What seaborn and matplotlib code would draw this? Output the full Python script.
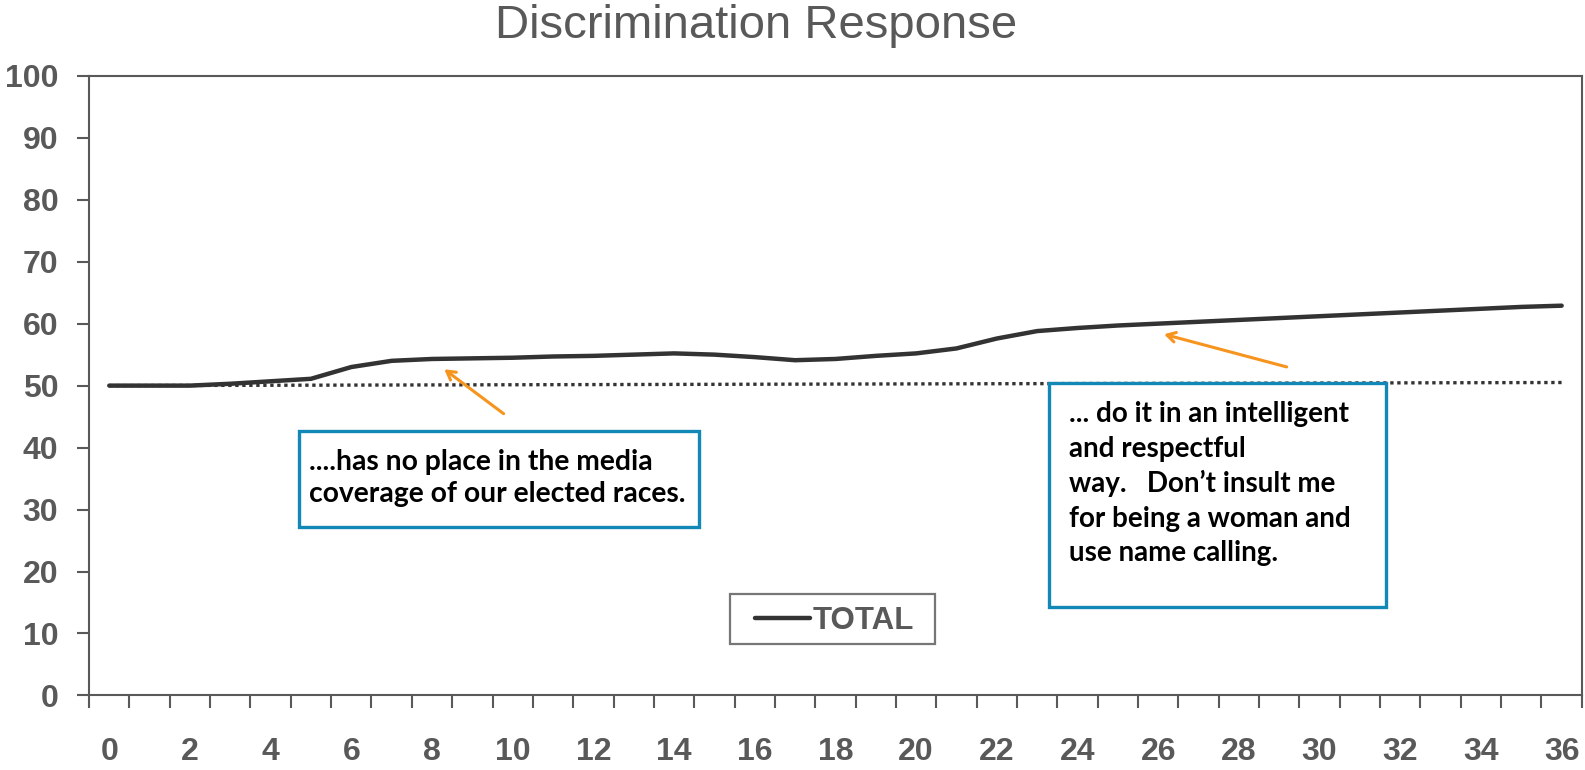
import matplotlib
matplotlib.use("Agg")
import matplotlib.pyplot as plt
import seaborn as sns
import pandas as pd
from matplotlib.patches import Rectangle
from matplotlib.ticker import FixedLocator

# ---- data ----
categories = list(range(37))
total = [50.0, 50.0, 50.0, 50.3, 50.7, 51.1, 53.0, 54.0, 54.3, 54.4, 54.5, 54.7, 54.8, 55.0,
         55.2, 55.0, 54.6, 54.1, 54.3, 54.8, 55.2, 56.0, 57.6, 58.8, 59.3, 59.7, 60.0, 60.3,
         60.6, 60.9, 61.2, 61.5, 61.8, 62.1, 62.4, 62.7, 62.9]
ref_x = [0, 36]
ref_y = [50.0, 50.5]
y_ticks = [0, 10, 20, 30, 40, 50, 60, 70, 80, 90, 100]
x_labels = list(range(0, 37, 2))
title = "Discrimination Response"
series_name = "TOTAL"
note1 = "....has no place in the media\ncoverage of our elected races."
note2 = "... do it in an intelligent\nand respectful\nway.   Don\u2019t insult me\nfor being a woman and\nuse name calling."

df = pd.DataFrame({"x": categories, "TOTAL": total})

sns.set_style("white")
plt.rcParams["font.family"] = ["Liberation Sans", "DejaVu Sans"]

GRAY = "#595959"
fig = plt.figure(figsize=(15.85, 7.70), dpi=100)
ax = fig.add_axes([0.0562, 0.0968, 0.998 - 0.0562, 0.9016 - 0.0968])

sns.lineplot(data=df, x="x", y="TOTAL", ax=ax, color="#333333", linewidth=3.2,
             label=series_name, zorder=3)
ax.plot(ref_x, ref_y, linestyle=(0, (1, 1.1)), color="#333333", linewidth=2.4, zorder=2)

ax.set_xlim(-0.5, 36.5)
ax.set_ylim(0, 100)
ax.set_xlabel("")
ax.set_ylabel("")

ax.set_yticks(y_ticks)
ax.set_xticks(x_labels)
ax.set_xticklabels([str(v) for v in x_labels])
ax.xaxis.set_minor_locator(FixedLocator([i - 0.5 for i in range(38)]))
ax.tick_params(axis="x", which="major", length=0, pad=30, labelsize=23, labelcolor=GRAY)
ax.tick_params(axis="x", which="minor", length=9.4, width=1.5, color=GRAY, direction="out", bottom=True)
ax.tick_params(axis="y", which="major", length=8.6, width=1.5, color=GRAY, direction="out",
               left=True, pad=13.5, labelsize=23, labelcolor=GRAY)
for lab in ax.get_xticklabels() + ax.get_yticklabels():
    lab.set_fontweight("bold")

for s in ax.spines.values():
    s.set_visible(True)
    s.set_color(GRAY)
    s.set_linewidth(1.5)

ax.set_title(title, fontsize=34, color=GRAY, pad=27)
ax.title.set_position((0.447, 1.0))

# annotation boxes
BLUE = "#1288B6"
ax.add_patch(Rectangle((4.7, 27.2), 14.63 - 4.7, 42.6 - 27.2, facecolor="white",
                       edgecolor=BLUE, linewidth=2.4, zorder=5))
ax.text(4.95, 35.1, note1, fontsize=20.3, family=["Lato", "DejaVu Sans"], fontweight="bold",
        va="center", ha="left", linespacing=1.27, zorder=6, color="black")
ax.add_patch(Rectangle((23.3, 14.2), 31.65 - 23.3, 50.4 - 14.2, facecolor="white",
                       edgecolor=BLUE, linewidth=2.4, zorder=5))
ax.text(23.78, 34.2, note2, fontsize=20.0, family=["Lato", "DejaVu Sans"], fontweight="bold",
        va="center", ha="left", linespacing=1.39, zorder=6, color="black")

ORANGE = "#F7941D"
ax.annotate("", xy=(8.25, 52.9), xytext=(9.83, 45.2),
            arrowprops=dict(arrowstyle="->,head_length=0.6,head_width=0.35", color=ORANGE, lw=2.2),
            zorder=6)
ax.annotate("", xy=(26.08, 58.4), xytext=(29.25, 52.9),
            arrowprops=dict(arrowstyle="->,head_length=0.6,head_width=0.35", color=ORANGE, lw=2.2),
            zorder=6)

# legend (frame drawn as a separate box to match the wide padding)
leg = ax.legend(loc="center", bbox_to_anchor=(0.5265, 0.194), bbox_transform=fig.transFigure,
                frameon=False, handlelength=1.75, handletextpad=0.1,
                borderpad=0.35, prop={"family": "Liberation Sans", "weight": "bold", "size": 22.5})
for t in leg.get_texts():
    t.set_color(GRAY)
fig.patches.append(Rectangle((730 / 1585, (770 - 644) / 770), 205 / 1585, 50 / 770,
                             transform=fig.transFigure, facecolor="none",
                             edgecolor="#767676", linewidth=1.6, zorder=7))

fig.savefig("out.png", dpi=100, facecolor="white")
